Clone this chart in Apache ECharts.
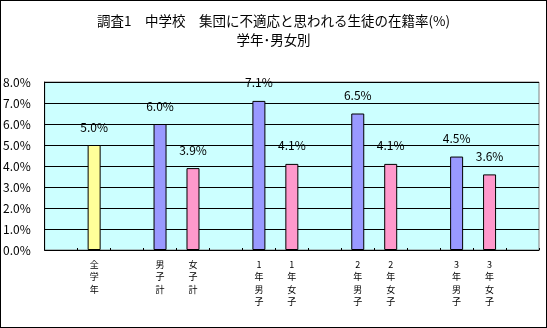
<!DOCTYPE html>
<html>
<head>
<meta charset="utf-8">
<script src="https://cdn.jsdelivr.net/npm/echarts@6/dist/echarts.min.js"></script>
<style>
html,body{margin:0;padding:0;background:#fff;}
#c{width:547px;height:328px;}
#frame{position:absolute;left:0;top:0;width:545px;height:326px;border:1px solid #000;pointer-events:none;}
</style>
</head>
<body>
<div id="c"></div>
<div id="frame"></div>
<script>
const categories = ['', '全学年', '', '男子計', '女子計', '', '1年男子', '1年女子', '', '2年男子', '2年女子', '', '3年男子', '3年女子', ''];
const values = [null, 5.0, null, 6.0, 3.9, null, 7.1, 4.1, null, 6.5, 4.1, null, 4.45, 3.6, null];
const barColors = ['', '#ffff99', '', '#9999ff', '#ff99cc', '', '#9999ff', '#ff99cc', '', '#9999ff', '#ff99cc', '', '#9999ff', '#ff99cc', ''];
const yTicks = [0, 1, 2, 3, 4, 5, 6, 7, 8];
const titleLines = ['調査1　中学校　集団に不適応と思われる生徒の在籍率(%)', '学年･男女別'];

const FONT = '"Noto Sans CJK JP", "Noto Sans", sans-serif';
const chart = echarts.init(document.getElementById('c'), null, {renderer: 'canvas'});
chart.setOption({
  animation: false,
  textStyle: {fontFamily: FONT},
  title: {
    text: titleLines.join('\n'),
    left: 'center',
    top: 6,
    textStyle: {fontSize: 13.5, fontWeight: 'normal', color: '#000', lineHeight: 19, fontFamily: FONT}
  },
  grid: {
    left: 42, right: 8, top: 82, bottom: 78,
    show: true, backgroundColor: '#ccffff', borderColor: '#808080', borderWidth: 1,
    containLabel: false
  },
  xAxis: {
    type: 'category',
    data: categories,
    boundaryGap: true,
    axisLine: {show: true, lineStyle: {color: '#000', width: 1}},
    axisTick: {show: true, inside: true, length: 2, alignWithLabel: false, interval: 0, lineStyle: {color: '#000'}},
    axisLabel: {
      interval: 0, margin: 8,
      fontSize: 9, lineHeight: 12.5, color: '#000', fontFamily: FONT,
      verticalAlign: 'top',
      formatter: function (v) { return v.split('').join('\n'); }
    }
  },
  yAxis: {
    type: 'value',
    min: yTicks[0], max: yTicks[yTicks.length - 1], interval: 1,
    axisLine: {show: true, lineStyle: {color: '#000', width: 1}},
    axisTick: {show: false},
    splitLine: {show: true, lineStyle: {color: '#000', width: 1}},
    axisLabel: {
      margin: 14, fontSize: 12, color: '#000', fontFamily: FONT,
      formatter: function (v) { return v.toFixed(1) + '%'; }
    }
  },
  series: [{
    type: 'bar',
    data: values.map(function (v, i) {
      return v == null ? null : {value: v, itemStyle: {color: barColors[i]}};
    }),
    barWidth: 13,
    itemStyle: {borderColor: '#000', borderWidth: 1},
    label: {
      show: true, position: 'top', distance: 12,
      fontSize: 12, color: '#000', fontFamily: FONT,
      formatter: function (p) { return p.value.toFixed(1) + '%'; }
    }
  }]
});
</script>
</body>
</html>
